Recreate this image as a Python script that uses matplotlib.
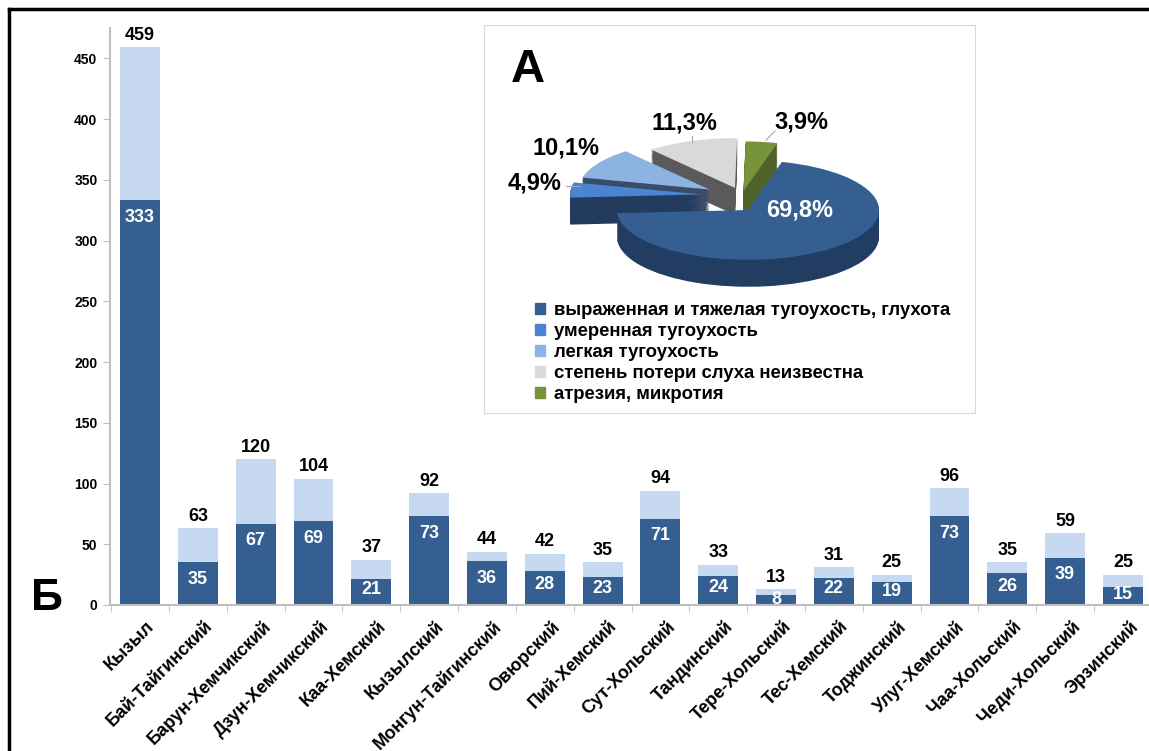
import matplotlib.pyplot as plt
import numpy as np
from matplotlib.lines import Line2D
from matplotlib.patches import Patch
from matplotlib.transforms import ScaledTranslation

plt.rcParams['font.family'] = ['Liberation Sans', 'DejaVu Sans']
plt.rcParams['font.weight'] = 'bold'

# данные по районам
districts = ['Кызыл', 'Бай-Тайгинский', 'Барун-Хемчикский', 'Дзун-Хемчикский',
             'Каа-Хемский', 'Кызылский', 'Монгун-Тайгинский', 'Овюрский',
             'Пий-Хемский', 'Сут-Хольский', 'Тандинский', 'Тере-Хольский',
             'Тес-Хемский', 'Тоджинский', 'Улуг-Хемский', 'Чаа-Хольский',
             'Чеди-Хольский', 'Эрзинский']
total = [459, 63, 120, 104, 37, 92, 44, 42, 35, 94, 33, 13, 31, 25, 96, 35, 59, 25]
severe = [333, 35, 67, 69, 21, 73, 36, 28, 23, 71, 24, 8, 22, 19, 73, 26, 39, 15]

# данные круговой диаграммы
pie_labels = ['выраженная и тяжелая тугоухость, глухота', 'умеренная тугоухость',
              'легкая тугоухость', 'степень потери слуха неизвестна',
              'атрезия, микротия']
pie_pct = [69.8, 4.9, 10.1, 11.3, 3.9]

pie_top = ['#365F91', '#4A84D2', '#8DB3E2', '#D9D9D9', '#77933C']
pie_side = ['#213D62', '#233C5E', '#3A4D68', '#5A5A5A', '#4F6228']
explode = [0, 0.36, 0.32, 0.3, 0.3]
# дополнительный подъём отодвинутых секторов (пиксели)
lift = [(0, 0), (0, 14), (-3, 12), (0, 8), (-10, 4)]

W, H = 1149, 751
fig = plt.figure(figsize=(W / 100, H / 100), dpi=100)

# рамка слева и сверху
fig.add_artist(Line2D([8.5 / W, 8.5 / W], [0, 1 - 9 / H], color='black', lw=2.5))
fig.add_artist(Line2D([8.5 / W, 1], [1 - 9 / H, 1 - 9 / H], color='black', lw=2.5))

ax = fig.add_axes([110 / W, 1 - 605 / H, 1043 / W, 577 / H])
x = np.arange(len(districts))
light = [t - s for t, s in zip(total, severe)]
ax.bar(x, severe, 0.69, color='#365F91')
ax.bar(x, light, 0.69, bottom=severe, color='#C6D9F1')

for i in range(len(x)):
    ax.text(x[i], total[i] + 3, str(total[i]), ha='center', va='bottom', fontsize=13)
    yc = max(severe[i] - 14, severe[i] * 0.6)
    ax.text(x[i], yc, str(severe[i]), ha='center', va='center', fontsize=13, color='white')

ax.set_xlim(-0.52, 17.52)
ax.set_ylim(0, 475)
for s in ['top', 'right']:
    ax.spines[s].set_visible(False)
for s in ['left', 'bottom']:
    ax.spines[s].set_color('#BFBFBF')
    ax.spines[s].set_linewidth(1.5)
ax.set_yticks(range(0, 451, 50))
ax.tick_params(axis='y', length=5, color='#BFBFBF', labelsize=10, pad=4)
ax.set_xticks(x)
ax.set_xticklabels(districts, rotation=45, ha='right', rotation_mode='anchor', fontsize=13)
ax.set_xticks(np.arange(-0.5, 18, 1), minor=True)
ax.tick_params(axis='x', which='major', length=0, pad=9)
ax.tick_params(axis='x', which='minor', length=5, color='#BFBFBF')
for lab in ax.get_xticklabels():
    lab.set_transform(lab.get_transform() + ScaledTranslation(0.06, 0, fig.dpi_scale_trans))

fig.text(47 / W, 1 - 598 / H, 'Б', fontsize=32, ha='center', va='center')

# вставка с круговой диаграммой
rect = [484 / W, 1 - 413 / H, 491 / W, 388 / H]
box = fig.add_axes(rect)
box.set_xticks([])
box.set_yticks([])
for s in box.spines.values():
    s.set_color('#D9D9D9')

SY = 0.38


def py(ypx):
    return (H - ypx) / SY


pax = fig.add_axes(rect)
cx, cy, r = 748, py(210), 131
depth = 27 / SY
ex = [e * r for e in explode]


def draw_layer(yoff, colors):
    wedges = pax.pie(pie_pct, radius=r, center=(cx, cy - yoff), startangle=75,
                     counterclock=False, explode=ex, colors=colors,
                     wedgeprops=dict(linewidth=0))[0]
    for w, (dx, dy) in zip(wedges, lift):
        c0, c1 = w.center
        w.set_center((c0 + dx, c1 + dy / SY))


n = 24
for k in range(n):
    draw_layer(depth * (1 - k / n), pie_side)
draw_layer(0, pie_top)
pax.set_aspect('auto')
pax.set_xlim(484, 975)
pax.set_ylim(py(413), py(25))
pax.axis('off')

lbl_pos = [(800, 210), (535, 183), (566, 148), (684, 123), (801, 122)]
for i, v in enumerate(pie_pct):
    txt = f'{v:.1f}%'.replace('.', ',')
    pax.text(lbl_pos[i][0], py(lbl_pos[i][1]), txt, ha='center', va='center',
             fontsize=17, color='white' if i == 0 else 'black')
for (x0, y0), (x1, y1) in [((566, 186), (580, 186)), ((692, 136), (692, 142)),
                           ((775, 131), (766, 140))]:
    pax.plot([x0, x1], [py(y0), py(y1)], color='#A6A6A6', lw=0.8)

fig.text(528 / W, 1 - 70 / H, 'А', fontsize=34, ha='center', va='center')

handles = [Patch(color=c) for c in pie_top]
fig.legend(handles, pie_labels, loc='upper left', bbox_to_anchor=(535 / W, 1 - 302 / H),
           frameon=False, fontsize=13.3, handlelength=0.55, handleheight=0.55,
           handletextpad=0.5, labelspacing=0.22, borderpad=0, borderaxespad=0)

fig.savefig('out.png', dpi=100)
